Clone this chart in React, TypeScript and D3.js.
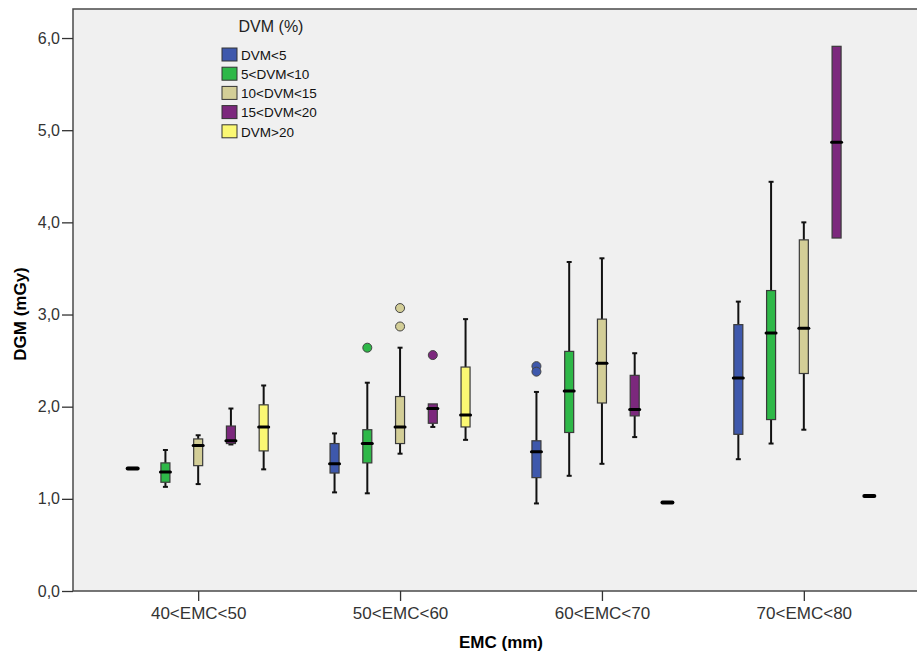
import React, { useEffect, useRef } from 'react';
import * as d3 from 'd3';

// EMC groups on the x axis
const categories = ['40<EMC<50', '50<EMC<60', '60<EMC<70', '70<EMC<80'];
const seriesNames = ['DVM<5', '5<DVM<10', '10<DVM<15', '15<DVM<20', 'DVM>20'];
const seriesColors = ['#3e58ac', '#2eb848', '#d3ce97', '#7c287d', '#fbf873'];
const yTicks = [0, 1, 2, 3, 4, 5, 6];

// [min, q1, median, q3, max] per EMC group
const dvm5 = [
  [1.33, 1.32, 1.33, 1.34, 1.33],
  [1.07, 1.28, 1.38, 1.6, 1.71],
  [0.95, 1.23, 1.51, 1.63, 2.16],
  [1.43, 1.7, 2.31, 2.89, 3.14],
];
const dvm5to10 = [
  [1.13, 1.18, 1.29, 1.39, 1.53],
  [1.06, 1.39, 1.6, 1.75, 2.26],
  [1.25, 1.72, 2.17, 2.6, 3.57],
  [1.6, 1.86, 2.8, 3.26, 4.44],
];
const dvm10to15 = [
  [1.16, 1.36, 1.58, 1.65, 1.69],
  [1.49, 1.6, 1.78, 2.11, 2.64],
  [1.38, 2.04, 2.47, 2.95, 3.61],
  [1.75, 2.36, 2.85, 3.81, 4.0],
];
const dvm15to20 = [
  [1.59, 1.6, 1.63, 1.79, 1.98],
  [1.78, 1.82, 1.98, 2.03, 2.03],
  [1.67, 1.9, 1.97, 2.34, 2.58],
  [3.83, 3.83, 4.87, 5.91, 5.91],
];
const dvm20 = [
  [1.52, 1.52, 1.78, 2.02, 2.23],
  [1.64, 1.78, 1.91, 2.43, 2.95],
  [0.96, 0.96, 0.96, 0.96, 0.96],
  [1.03, 1.03, 1.03, 1.03, 1.03],
];
// first DVM>20 box has a lower whisker
dvm20[0][0] = 1.32;

// outliers: [category index, series index, value]
const outliers = [
  [1, 1, 2.64],
  [1, 2, 3.07],
  [1, 2, 2.87],
  [1, 3, 2.56],
  [2, 0, 2.44],
  [2, 0, 2.38],
];

const App = () => {
  const chartRef = useRef(null);

  useEffect(() => {
    const W = 917;
    const H = 657;
    const plot = { left: 73, top: 9, right: 929, bottom: 591 };
    const font = 'Arial, "Liberation Sans", sans-serif';
    const allSeries = [dvm5, dvm5to10, dvm10to15, dvm15to20, dvm20];

    d3.select(chartRef.current).selectAll('*').remove();

    const svg = d3
      .select(chartRef.current)
      .append('svg')
      .attr('width', W)
      .attr('height', H)
      .style('position', 'absolute')
      .style('left', 0)
      .style('top', 0)
      .style('background', '#fff');

    const x = d3.scalePoint().domain(categories).range([plot.left, plot.right]).padding(0.62);
    const xs = d3.scalePoint().domain(seriesNames).range([-65.5, 65.5]);
    const y = d3.scaleLinear().domain([0, 6.315]).range([plot.bottom, plot.top]);

    svg
      .append('rect')
      .attr('x', plot.left)
      .attr('y', plot.top)
      .attr('width', plot.right - plot.left)
      .attr('height', plot.bottom - plot.top)
      .attr('fill', '#f0f0f0')
      .attr('stroke', '#4a4a4a')
      .attr('stroke-width', 1.5);

    // y axis
    const yAxis = svg
      .append('g')
      .attr('transform', `translate(${plot.left},0)`)
      .call(
        d3
          .axisLeft(y)
          .tickValues(yTicks)
          .tickSize(11)
          .tickPadding(2)
          .tickFormat(d => d.toFixed(1).replace('.', ','))
      );
    yAxis.select('.domain').remove();
    yAxis.selectAll('line').attr('stroke', '#333').attr('stroke-width', 1.3);
    yAxis
      .selectAll('text')
      .style('font-size', '16px')
      .style('font-family', font)
      .attr('fill', '#333');

    // x axis
    const xAxis = svg
      .append('g')
      .attr('transform', `translate(0,${plot.bottom})`)
      .call(d3.axisBottom(x).tickSize(10).tickPadding(6));
    xAxis.select('.domain').remove();
    xAxis.selectAll('line').attr('stroke', '#333').attr('stroke-width', 1.3);
    xAxis
      .selectAll('text')
      .style('font-size', '17px')
      .style('font-family', font)
      .attr('fill', '#333');

    svg
      .append('text')
      .attr('x', 501)
      .attr('y', 648)
      .attr('text-anchor', 'middle')
      .style('font-size', '17px')
      .style('font-family', font)
      .style('font-weight', 'bold')
      .text('EMC (mm)');

    svg
      .append('text')
      .attr('transform', 'rotate(-90)')
      .attr('x', -314)
      .attr('y', 26)
      .attr('text-anchor', 'middle')
      .style('font-size', '17px')
      .style('font-family', font)
      .style('font-weight', 'bold')
      .text('DGM (mGy)');

    const boxW = 9;

    allSeries.forEach((series, si) => {
      series.forEach((s, ci) => {
        const [mn, q1, md, q3, mx] = s;
        const cx = x(categories[ci]) + xs(seriesNames[si]);
        const g = svg.append('g');

        if (mx > q3) {
          g.append('line')
            .attr('x1', cx).attr('x2', cx)
            .attr('y1', y(q3)).attr('y2', y(mx))
            .attr('stroke', '#111').attr('stroke-width', 2);
          g.append('line')
            .attr('x1', cx - 2.5).attr('x2', cx + 2.5)
            .attr('y1', y(mx)).attr('y2', y(mx))
            .attr('stroke', '#111').attr('stroke-width', 2);
        }
        if (mn < q1) {
          g.append('line')
            .attr('x1', cx).attr('x2', cx)
            .attr('y1', y(q1)).attr('y2', y(mn))
            .attr('stroke', '#111').attr('stroke-width', 2);
          g.append('line')
            .attr('x1', cx - 2.5).attr('x2', cx + 2.5)
            .attr('y1', y(mn)).attr('y2', y(mn))
            .attr('stroke', '#111').attr('stroke-width', 2);
        }

        if (q3 > q1) {
          g.append('rect')
            .attr('x', cx - boxW / 2)
            .attr('y', y(q3))
            .attr('width', boxW)
            .attr('height', y(q1) - y(q3))
            .attr('fill', seriesColors[si])
            .attr('stroke', '#3a3a3a')
            .attr('stroke-width', 1.2);
        }

        g.append('line')
          .attr('x1', cx - boxW / 2 - 0.5)
          .attr('x2', cx + boxW / 2 + 0.5)
          .attr('y1', y(md))
          .attr('y2', y(md))
          .attr('stroke', '#000')
          .attr('stroke-width', q3 > q1 && y(q1) - y(q3) > 4 ? 3 : 4)
          .attr('stroke-linecap', 'round');
      });
    });

    svg
      .selectAll('circle.outlier')
      .data(outliers)
      .enter()
      .append('circle')
      .attr('class', 'outlier')
      .attr('cx', d => x(categories[d[0]]) + xs(seriesNames[d[1]]))
      .attr('cy', d => y(d[2]))
      .attr('r', 4.5)
      .attr('fill', d => seriesColors[d[1]])
      .attr('stroke', '#444')
      .attr('stroke-width', 1);

    // legend
    const legend = svg.append('g').attr('transform', 'translate(222, 0)');
    legend
      .append('text')
      .attr('x', 49)
      .attr('y', 32)
      .attr('text-anchor', 'middle')
      .style('font-size', '16px')
      .style('font-family', font)
      .attr('fill', '#222')
      .text('DVM (%)');

    seriesNames.forEach((name, i) => {
      const row = legend.append('g').attr('transform', `translate(0, ${48 + i * 19.2})`);
      row
        .append('rect')
        .attr('width', 15)
        .attr('height', 13)
        .attr('fill', seriesColors[i])
        .attr('stroke', '#333')
        .attr('stroke-width', 1);
      row
        .append('text')
        .attr('x', 19)
        .attr('y', 7)
        .attr('dy', '0.35em')
        .style('font-size', '13.5px')
        .style('font-family', font)
        .attr('fill', '#111')
        .text(name);
    });
  }, []);

  return <div ref={chartRef}></div>;
};

export default App;
